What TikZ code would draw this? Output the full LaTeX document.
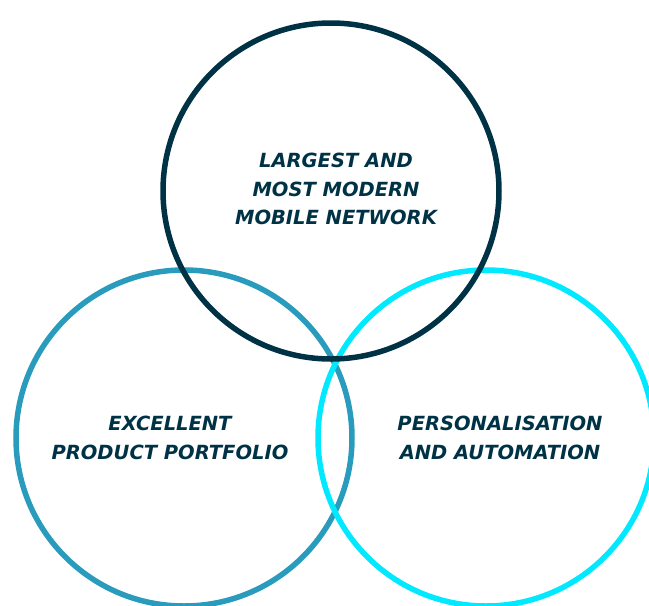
\documentclass[tikz,border=0pt]{standalone}
\usepackage{fontspec}
\setmainfont{DejaVu Sans}
\usepackage{tikz}

\definecolor{navy}{RGB}{0,50,70}
\definecolor{steel}{RGB}{41,155,189}
\definecolor{aqua}{RGB}{0,233,255}

\begin{document}
\begin{tikzpicture}[x=1pt,y=-1pt,
            ring/.style={draw,circle,line width=5.5pt,minimum size=336pt,inner sep=0pt},
            lab/.style={align=center,text=navy,font=\bfseries\itshape\fontsize{19.5}{28.5}\selectfont}
          ]
          \useasboundingbox (0,0) rectangle (649,606);

          %circles
          \node[ring,draw=steel] (product) at (184,438) {};
          \node[ring,draw=aqua] (personal) at (486,438) {};
          \node[ring,draw=navy] (network) at (331,191) {};

          %labels
          \node[lab] (networklab) at (336,189) {LARGEST AND\\MOST MODERN\\MOBILE NETWORK};
          \node[lab] (productlab) at (170,438) {EXCELLENT\\PRODUCT PORTFOLIO};
          \node[lab] (personallab) at (500,438) {PERSONALISATION\\AND AUTOMATION};

      \end{tikzpicture}
\end{document}
